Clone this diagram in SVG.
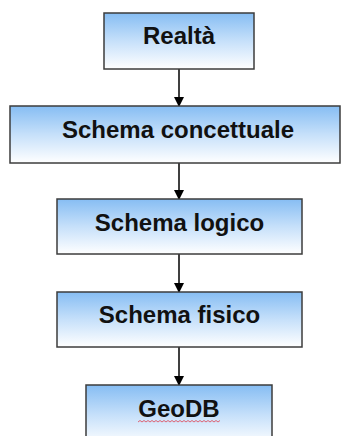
<svg xmlns="http://www.w3.org/2000/svg" width="342" height="436" viewBox="0 0 342 436">
<defs>
<linearGradient id="g" x1="0" y1="0" x2="0" y2="1">
<stop offset="0" stop-color="#86bdf3"/>
<stop offset="0.5" stop-color="#c6e0fa"/>
<stop offset="1" stop-color="#ffffff"/>
</linearGradient>
<marker id="ah" markerWidth="10" markerHeight="10" refX="9" refY="5" orient="auto" markerUnits="userSpaceOnUse">
<path d="M0,0 L10,5 L0,10 Z" fill="#000"/>
</marker>
<style>
.box{fill:url(#g);stroke:#3c3c3c;stroke-width:1.5}
.lbl{font-family:"Liberation Sans",Arial,sans-serif;font-weight:bold;font-size:24px;fill:#111;text-anchor:middle}
.con{stroke:#000;stroke-width:1.5;fill:none;marker-end:url(#ah)}
</style>
</defs>
<rect width="342" height="436" fill="#fff"/>
<g id="connectors">
<line class="con" x1="179" y1="69" x2="179" y2="106"/>
<line class="con" x1="179" y1="163" x2="179" y2="199"/>
<line class="con" x1="179" y1="254" x2="179" y2="292"/>
<line class="con" x1="179" y1="347" x2="179" y2="385"/>
</g>
<g id="realta">
<rect class="box" x="104" y="13" width="150" height="56"/>
<text class="lbl" x="179" y="44">Realtà</text>
</g>
<g id="schema-concettuale">
<rect class="box" x="10" y="106" width="330" height="57"/>
<text class="lbl" x="178" y="138">Schema concettuale</text>
</g>
<g id="schema-logico">
<rect class="box" x="57" y="199" width="245" height="55"/>
<text class="lbl" x="179.5" y="231">Schema logico</text>
</g>
<g id="schema-fisico">
<rect class="box" x="57" y="292" width="245" height="55"/>
<text class="lbl" x="179.5" y="323">Schema fisico</text>
</g>
<g id="geodb">
<rect class="box" x="86" y="385" width="186" height="60"/>
<text class="lbl" x="179" y="417">GeoDB</text>
<path d="M138,422 l2,-1.5 l2,1.5 l2,-1.5 l2,1.5 l2,-1.5 l2,1.5 l2,-1.5 l2,1.5 l2,-1.5 l2,1.5 l2,-1.5 l2,1.5 l2,-1.5 l2,1.5 l2,-1.5 l2,1.5 l2,-1.5 l2,1.5 l2,-1.5 l2,1.5 l2,-1.5 l2,1.5 l2,-1.5 l2,1.5 l2,-1.5 l2,1.5 l2,-1.5 l2,1.5 l2,-1.5 l2,1.5 l2,-1.5 l2,1.5 l2,-1.5 l2,1.5 l2,-1.5 l2,1.5 l2,-1.5 l2,1.5 l2,-1.5 l2,1.5 l2,-1.5" fill="none" stroke="#e04050" stroke-width="0.8"/>
</g>
</svg>
